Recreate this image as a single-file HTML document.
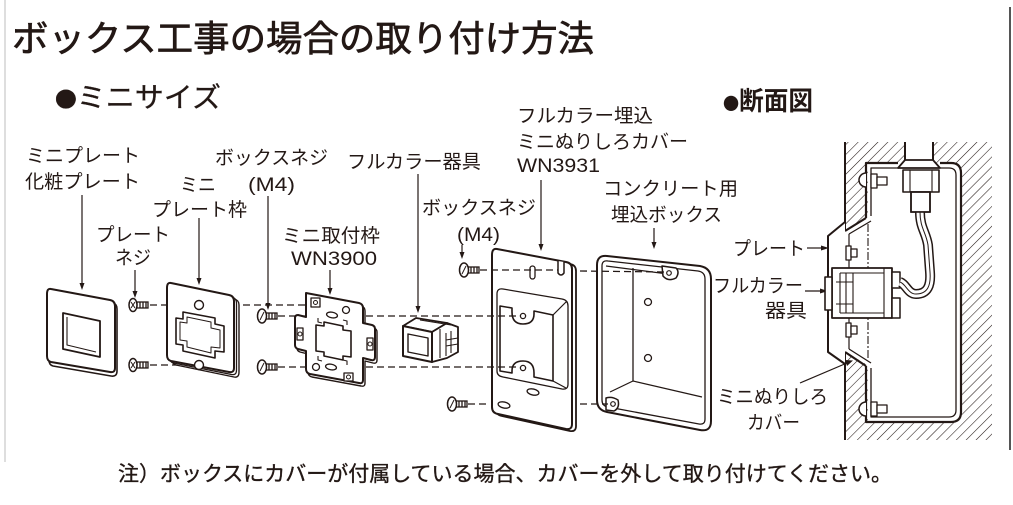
<!DOCTYPE html>
<html><head><meta charset="utf-8">
<style>
html,body{margin:0;padding:0;background:#fff;}
svg{display:block;}
text{font-family:"Liberation Sans","Noto Sans CJK JP",sans-serif;fill:#231815;}
.cjk{font-family:"Noto Sans CJK JP",sans-serif;}
</style></head><body>
<svg width="1013" height="505" viewBox="0 0 1013 505" xmlns="http://www.w3.org/2000/svg">
<defs>
<pattern id="hatch" width="7" height="7" patternUnits="userSpaceOnUse" patternTransform="rotate(45)">
<line x1="0" y1="0" x2="0" y2="7" stroke="#231815" stroke-width="1.1"/>
</pattern>
</defs>

<!-- frame lines -->
<line x1="5" y1="0" x2="5" y2="462" stroke="#d4d4d4" stroke-width="1.5"/>
<line x1="1010" y1="7" x2="1010" y2="450" stroke="#555" stroke-width="2"/>

<!-- Titles -->
<text x="12" y="51" font-size="36" stroke="#231815" stroke-width="0.7" textLength="582" lengthAdjust="spacingAndGlyphs">ボックス工事の場合の取り付け方法</text>
<text x="55" y="107" font-size="28" stroke="#231815" stroke-width="0.3" textLength="166" lengthAdjust="spacingAndGlyphs"><tspan class="cjk" font-size="21">●</tspan>ミニサイズ</text>
<text x="723" y="110" font-size="26" font-weight="bold" textLength="90" lengthAdjust="spacingAndGlyphs"><tspan class="cjk" font-size="17">●</tspan>断面図</text>

<!-- Labels -->
<g font-size="19">
<text x="26" y="162" textLength="114" lengthAdjust="spacingAndGlyphs">ミニプレート</text>
<text x="25" y="188" textLength="115" lengthAdjust="spacingAndGlyphs">化粧プレート</text>
<text x="180" y="191" textLength="36" lengthAdjust="spacingAndGlyphs">ミニ</text>
<text x="215" y="164" textLength="113" lengthAdjust="spacingAndGlyphs">ボックスネジ</text>
<text x="248" y="191" textLength="47" lengthAdjust="spacingAndGlyphs">(M4)</text>
<text x="347" y="168" textLength="134" lengthAdjust="spacingAndGlyphs">フルカラー器具</text>
<text x="152" y="216" textLength="95" lengthAdjust="spacingAndGlyphs">プレート枠</text>
<text x="96" y="241" textLength="74" lengthAdjust="spacingAndGlyphs">プレート</text>
<text x="115" y="264" textLength="36" lengthAdjust="spacingAndGlyphs">ネジ</text>
<text x="282" y="242" textLength="98" lengthAdjust="spacingAndGlyphs">ミニ取付枠</text>
<text x="291" y="265" textLength="86" lengthAdjust="spacingAndGlyphs">WN3900</text>
<text x="422" y="214" textLength="114" lengthAdjust="spacingAndGlyphs">ボックスネジ</text>
<text x="457" y="241" textLength="43" lengthAdjust="spacingAndGlyphs">(M4)</text>
<text x="517" y="122" textLength="136" lengthAdjust="spacingAndGlyphs">フルカラー埋込</text>
<text x="517" y="148" textLength="171" lengthAdjust="spacingAndGlyphs">ミニぬりしろカバー</text>
<text x="517" y="172" textLength="83" lengthAdjust="spacingAndGlyphs">WN3931</text>
<text x="603" y="195" textLength="135" lengthAdjust="spacingAndGlyphs">コンクリート用</text>
<text x="611" y="221" textLength="111" lengthAdjust="spacingAndGlyphs">埋込ボックス</text>
<text x="733" y="255" textLength="72" lengthAdjust="spacingAndGlyphs">プレート</text>
<text x="713" y="292" textLength="90" lengthAdjust="spacingAndGlyphs">フルカラー</text>
<text x="765" y="317" textLength="42" lengthAdjust="spacingAndGlyphs">器具</text>
<text x="717" y="403" textLength="111" lengthAdjust="spacingAndGlyphs">ミニぬりしろ</text>
<text x="747" y="429" textLength="53" lengthAdjust="spacingAndGlyphs">カバー</text>
</g>
<text x="118" y="481" font-size="21" stroke="#231815" stroke-width="0.35" textLength="774" lengthAdjust="spacingAndGlyphs">注）ボックスにカバーが付属している場合、カバーを外して取り付けてください。</text>

<!-- Arrows (down) -->
<g stroke="#231815" stroke-width="1.2">
<line x1="82" y1="195" x2="82" y2="285"/>
<line x1="135" y1="270" x2="135" y2="293"/>
<line x1="199" y1="218" x2="199" y2="280"/>
<line x1="268" y1="196" x2="268" y2="305"/>
<line x1="330" y1="270" x2="330" y2="290"/>
<line x1="418" y1="174" x2="418" y2="308"/>
<line x1="462" y1="245" x2="462" y2="254"/>
<line x1="541" y1="180" x2="541" y2="246"/>
<line x1="654" y1="228" x2="654" y2="244"/>
<line x1="807" y1="248" x2="823" y2="248"/>
<line x1="805" y1="291" x2="822" y2="291"/>
<line x1="800" y1="383" x2="847" y2="363"/>
</g>
<g fill="#231815">
<polygon points="79.5,283 84.5,283 82,290"/>
<polygon points="132.5,291 137.5,291 135,298"/>
<polygon points="196.5,278 201.5,278 199,285"/>
<polygon points="265.5,303 270.5,303 268,310"/>
<polygon points="327.5,288 332.5,288 330,295"/>
<polygon points="415.5,306 420.5,306 418,313"/>
<polygon points="459.5,252 464.5,252 462,259"/>
<polygon points="538.5,244 543.5,244 541,251"/>
<polygon points="651.5,242 656.5,242 654,249"/>
<polygon points="821,245.5 821,250.5 829,248"/>
<polygon points="820,288.5 820,293.5 828,291"/>
<polygon points="845,360 847,366 853,360.5"/>
</g>

<!-- Cover WN3931 -->
<g fill="#fff" stroke="#231815" stroke-linejoin="round">
<path stroke-width="1.8" d="M501,251 L570,264 Q576,265 576,271 L576,426 Q576,432 570,431 L502,416 Q496,415 496,409 L496,257 Q496,250 501,251 Z"/>
<path stroke-width="2" d="M497,249 L566,262 Q572,263 572,269 L572,424 Q572,430 566,429 L498,414 Q492,413 492,407 L492,255 Q492,248 497,249 Z"/>
<path stroke-width="1.3" d="M503,289 L562,299 Q568,300 568,306 L568,384 Q568,390 562,389 L503,377 Q497,376 497,371 L497,294 Q497,288 503,289 Z"/>
<path stroke-width="1.6" d="M500,306 L512,308 L512,312 Q512,324 523,324 Q534,324 534,314 L534,311 L553,315 L553,381 L534,377 L534,373 Q534,361 523,361 Q512,361 512,371 L512,373 L500,371 Z"/>
<line x1="553" y1="315" x2="567" y2="301" stroke-width="1.2"/>
<line x1="553" y1="381" x2="566" y2="388" stroke-width="1.2"/>
<circle cx="523" cy="316" r="2.6" stroke-width="1.3"/>
<circle cx="523" cy="368" r="2.6" stroke-width="1.3"/>
<rect x="530" y="266" width="5" height="13" rx="2.5" stroke-width="1.3"/>
<path d="M558,261 L558,273 Q561,277 564,273 L564,262" stroke-width="1.5"/>
<ellipse cx="533" cy="392" rx="6" ry="3" transform="rotate(12 533 392)" stroke-width="1.3"/>
<ellipse cx="504" cy="405" rx="6" ry="3" transform="rotate(12 504 405)" stroke-width="1.3"/>
</g>

<!-- Box -->
<g fill="#fff" stroke="#231815" stroke-linejoin="round">
<path stroke-width="2" d="M597,265 Q597,255 607,256 L700,266 Q711,268 711,279 L711,421 Q711,432 700,430 L607,412 Q597,410 597,400 Z"/>
<path stroke-width="1.3" d="M602,266 Q602,260 608,261 L698,271 Q705,272 705,279 L705,419 Q705,425 699,424 L608,407 Q602,406 602,400 Z"/>
<line x1="606" y1="266" x2="668" y2="274" stroke-width="1.2"/>
<line x1="633" y1="268" x2="633" y2="381" stroke-width="1.3"/>
<line x1="633" y1="381" x2="702" y2="397" stroke-width="1.2"/>
<line x1="610" y1="392" x2="633" y2="381" stroke-width="1.2"/>
<circle cx="648" cy="302" r="3.5" stroke-width="1.3"/>
<circle cx="648" cy="358" r="3.5" stroke-width="1.3"/>
<path stroke-width="1.5" d="M662,266 L676,268 Q680,272 676,278 Q668,282 663,276 Z"/>
<circle cx="669" cy="273" r="2.3" stroke-width="1.2"/>
<path stroke-width="1.5" d="M606,398 Q612,396 618,400 Q620,408 614,411 L606,410 Z"/>
<circle cx="613" cy="404" r="2.3" stroke-width="1.2"/>
</g>

<!-- Dashed lines -->
<g stroke="#231815" stroke-width="1.3" stroke-dasharray="7,4" fill="none">
<line x1="150" y1="305" x2="193" y2="305"/>
<line x1="150" y1="365" x2="193" y2="365"/>
<line x1="243" y1="305" x2="313" y2="305"/>
<line x1="278" y1="316" x2="520" y2="316"/>
<line x1="278" y1="367" x2="520" y2="367"/>
<line x1="480" y1="270" x2="558" y2="270"/>
<line x1="580" y1="271" x2="664" y2="272"/>
<line x1="468" y1="404" x2="490" y2="404"/>
<line x1="580" y1="404" x2="608" y2="404"/>
</g>

<!-- Mini plate -->
<g fill="#fff" stroke="#231815" stroke-linejoin="round">
<path stroke-width="1.6" d="M53,292 L113,303 Q117,304 117,309 L117,371 Q117,377 111,376 L53,366 Q49,365 49,360 L49,297 Q49,291 53,292 Z"/>
<path stroke-width="2" d="M51,289 L110,300 Q115,301 115,306 L115,368 Q115,373 110,372 L51,362 Q47,361 47,356 L47,294 Q47,288 51,289 Z"/>
<path stroke-width="1.8" d="M63,313 L100,321 L100,357 L63,349 Z"/>
<path stroke-width="1.1" fill="none" d="M67,317 L67,345 L96,352"/>
</g>

<!-- Plate frame -->
<g fill="#fff" stroke="#231815" stroke-linejoin="round">
<path stroke-width="1.4" d="M176,287 L234,299 Q239,300 239,305 L239,372 Q239,378 234,377 L176,365 Q172,364 172,359 L172,292 Q172,286 176,287 Z"/>
<path stroke-width="1.3" d="M173.5,285 L231.5,297 Q236.5,298 236.5,303 L236.5,370 Q236.5,375.5 231.5,374.5 L173.5,363 Q169.5,362 169.5,357 L169.5,290 Q169.5,284 173.5,285 Z"/>
<path stroke-width="2" d="M171,283 L229,295 Q234,296 234,301 L234,368 Q234,373 229,372 L171,361 Q167,360 167,355 L167,288 Q167,282 171,283 Z"/>
<path stroke-width="1.6" d="M176,318 L183,319 L183,312 L215,318 L215,324 L224,326 L224,352 L215,351 L215,358 L183,351 L183,345 L176,344 Z"/>
<path stroke-width="1" fill="none" d="M180,322 L187,323 L187,317 L211,322 L211,328 L220,330 L220,348 L211,347 L211,353 L187,347 L187,341 L180,340 Z"/>
<circle cx="199" cy="305" r="4.5" stroke-width="1.4"/>
<circle cx="199" cy="365" r="4.5" stroke-width="1.4"/>
</g>

<!-- Mini mounting frame WN3900 -->
<g fill="#fff" stroke="#231815" stroke-linejoin="round">
<path stroke-width="1.4" d="M308,296 L361,306 Q365,307 365,311 L365,326 L374,328 Q377,329 377,332 L377,360 Q377,364 373,363 L365,361 L365,383 Q365,387 361,386 L312,377 Q308,376 308,372 L308,354 L300,352 Q297,351 297,348 L297,321 Q297,318 300,318 L308,320 Z"/>
<path stroke-width="2" d="M306,293 L359,303 Q363,304 363,308 L363,323 L372,325 Q375,326 375,329 L375,357 Q375,361 371,360 L363,358 L363,380 Q363,384 359,383 L310,374 Q306,373 306,369 L306,351 L298,349 Q295,348 295,345 L295,318 Q295,315 298,315 L306,317 Z"/>
<path stroke-width="1.6" d="M316,325 L324,326 L324,322 L343,326 L343,330 L351,331 L351,357 L343,356 L343,360 L324,356 L324,352 L316,351 Z"/>
<rect x="311" y="298" width="9" height="9" stroke-width="1.3"/>
<circle cx="315.5" cy="302.5" r="2" stroke-width="1"/>
<ellipse cx="332" cy="315" rx="5.5" ry="2.8" transform="rotate(10 332 315)" stroke-width="1.3"/>
<circle cx="346" cy="310" r="3.5" stroke-width="1.3"/>
<rect x="297" y="328" width="6" height="12" stroke-width="1.3"/>
<circle cx="300" cy="334" r="2" stroke-width="1"/>
<rect x="367" y="338" width="6" height="12" stroke-width="1.3"/>
<circle cx="370" cy="344" r="2" stroke-width="1"/>
<ellipse cx="331" cy="367" rx="5.5" ry="2.8" transform="rotate(10 331 367)" stroke-width="1.3"/>
<circle cx="316" cy="367" r="3.5" stroke-width="1.3"/>
<rect x="344" y="373" width="9" height="8" stroke-width="1.3"/>
<circle cx="348.5" cy="377" r="2" stroke-width="1"/>
<path fill="none" stroke-width="1.1" d="M318,318 L318,322 L322,323 M343,320 L347,321 L347,325 M318,356 L318,360 L322,361 M343,360 L347,361 L347,365"/>
</g>

<!-- Full color device -->
<g fill="#fff" stroke="#231815" stroke-linejoin="round">
<path stroke-width="1.8" d="M403,326 L416,318 L447,323 L432,332 Z"/>
<path stroke-width="1.8" d="M432,332 L447,323 L458,327 L458,352 L447,358 L432,362 Z"/>
<path stroke-width="2" d="M403,326 L432,332 L432,362 L403,356 Z"/>
<path stroke-width="1.4" d="M408,334 L428,338 L428,356 L408,352 Z"/>
<path fill="none" stroke-width="1.1" d="M420,320 L451,325 M440,329 L440,358 M446,333 L446,356 M451,331 L451,353 M446,340 L458,338 M446,346 L458,344"/>
</g>

<!-- Screws -->
<g fill="#fff" stroke="#231815" stroke-width="1.3">
<rect x="137" y="302" width="11" height="6"/><path d="M140,302v6M143,302v6M146,302v6" fill="none"/>
<ellipse cx="133" cy="305" rx="4" ry="6.5" stroke-width="1.5"/><path d="M131,302 L135,308 M135,302 L131,308" fill="none" stroke-width="1"/>
<rect x="137" y="362" width="11" height="6"/><path d="M140,362v6M143,362v6M146,362v6" fill="none"/>
<ellipse cx="133" cy="365" rx="4" ry="6.5" stroke-width="1.5"/><path d="M131,362 L135,368 M135,362 L131,368" fill="none" stroke-width="1"/>
<rect x="266" y="313" width="11" height="6"/><path d="M269,313v6M272,313v6M275,313v6" fill="none"/>
<ellipse cx="262" cy="316" rx="4.5" ry="7" stroke-width="1.5"/><path d="M260,320 L264,312" fill="none" stroke-width="1"/>
<rect x="266" y="364" width="11" height="6"/><path d="M269,364v6M272,364v6M275,364v6" fill="none"/>
<ellipse cx="262" cy="367" rx="4.5" ry="7" stroke-width="1.5"/><path d="M260,371 L264,363" fill="none" stroke-width="1"/>
<rect x="468" y="267" width="11" height="6"/><path d="M471,267v6M474,267v6M477,267v6" fill="none"/>
<ellipse cx="464" cy="270" rx="4.5" ry="7" stroke-width="1.5"/><path d="M462,274 L466,266" fill="none" stroke-width="1"/>
<rect x="456" y="401" width="11" height="6"/><path d="M459,401v6M462,401v6M465,401v6" fill="none"/>
<ellipse cx="452" cy="404" rx="4.5" ry="7" stroke-width="1.5"/><path d="M450,408 L454,400" fill="none" stroke-width="1"/>
</g>

<!-- Section view -->
<path fill="url(#hatch)" fill-rule="evenodd" d="M845,142 H992 V440 H845 Z M845,230 L868,218 L868,163 L905,163 L905,142 L933,142 L933,163 L952,163 Q961,163 961,172 L961,413 Q961,422 952,422 L868,422 L868,365 L845,352 Z"/>
<g fill="none" stroke="#231815" stroke-linejoin="round">
<line x1="845" y1="142" x2="845" y2="231" stroke-width="2"/>
<line x1="845" y1="352" x2="845" y2="440" stroke-width="2"/>
<line x1="905" y1="142" x2="905" y2="161" stroke-width="2"/>
<line x1="933" y1="142" x2="933" y2="161" stroke-width="2"/>
<path stroke-width="2.2" d="M866,218 L866,163 L898,163 M940,163 L951,163 Q961,163 961,173 L961,412 Q961,422 951,422 L866,422 L866,366"/>
<path stroke-width="1.3" d="M871,216 L871,168 L899,168 M940,168 L949,168 Q956,168 956,175 L956,410 Q956,417 949,417 L871,417 L871,368"/>
<path stroke-width="2.2" d="M866,218 L845,231"/>
<path stroke-width="1.3" d="M871,221 L849,234"/>
<path stroke-width="2.2" d="M845,352 L866,366"/>
<path stroke-width="1.3" d="M849,349 L871,363"/>
<line x1="849" y1="234" x2="849" y2="349" stroke-width="1.2"/>
<line x1="868" y1="224" x2="868" y2="360" stroke-width="1.1" stroke-dasharray="8,2,2,2"/>
</g>
<g fill="#fff" stroke="#231815" stroke-linejoin="round">
<path stroke-width="2" d="M845,222 L828,236 L828,352 L845,364"/>
<path stroke-width="1.8" d="M905,160 L933,160 L940,168 L898,168 Z"/>
<rect x="903" y="170" width="36" height="22" stroke-width="1.6"/>
<path fill="none" stroke-width="1.1" d="M910,170 V192 M932,170 V192"/>
<rect x="911" y="192" width="19" height="20" stroke-width="1.6"/>
<path stroke-width="1.5" d="M866,173 A6,6 0 0 0 866,187"/>
<rect x="871" y="174" width="6" height="14" stroke-width="1.3"/>
<rect x="877" y="177" width="10" height="8" stroke-width="1.3"/>
<path stroke-width="1.5" d="M866,402 A6,6 0 0 0 866,416"/>
<rect x="871" y="402" width="6" height="14" stroke-width="1.3"/>
<rect x="877" y="405" width="10" height="8" stroke-width="1.3"/>
<rect x="846" y="246" width="5" height="14" stroke-width="1.3"/>
<rect x="851" y="249" width="6" height="8" stroke-width="1.3"/>
<rect x="846" y="323" width="5" height="14" stroke-width="1.3"/>
<rect x="851" y="326" width="6" height="8" stroke-width="1.3"/>
<rect x="832" y="268" width="60" height="50" stroke-width="1.8"/>
<rect x="825" y="277" width="7" height="33" stroke-width="1.6"/>
<rect x="892" y="272" width="8" height="16" stroke-width="1.5"/>
<rect x="892" y="298" width="8" height="20" stroke-width="1.5"/>
<path fill="none" stroke-width="1.1" d="M840,273 V313 M846,273 V313 M853,273 V313 M840,273 H884 M840,313 H884 M884,268 V318 M836,282 H853 M836,304 H853"/>
</g>
<path fill="none" stroke="#231815" stroke-width="10" d="M900,282 C906,284 908,294 916,294 C928,294 931,285 930,272 L928,245 C926,232 920,228 920,212"/>
<path fill="none" stroke="#fff" stroke-width="7" d="M900,282 C906,284 908,294 916,294 C928,294 931,285 930,272 L928,245 C926,232 920,228 920,212"/>
<path fill="none" stroke="#231815" stroke-width="1" d="M900,282 C906,284 908,294 916,294 C928,294 931,285 930,272 L928,245 C926,232 920,228 920,212"/>
<rect x="911" y="192" width="19" height="20" fill="none" stroke="#231815" stroke-width="1.6"/>
</svg>
</body></html>
